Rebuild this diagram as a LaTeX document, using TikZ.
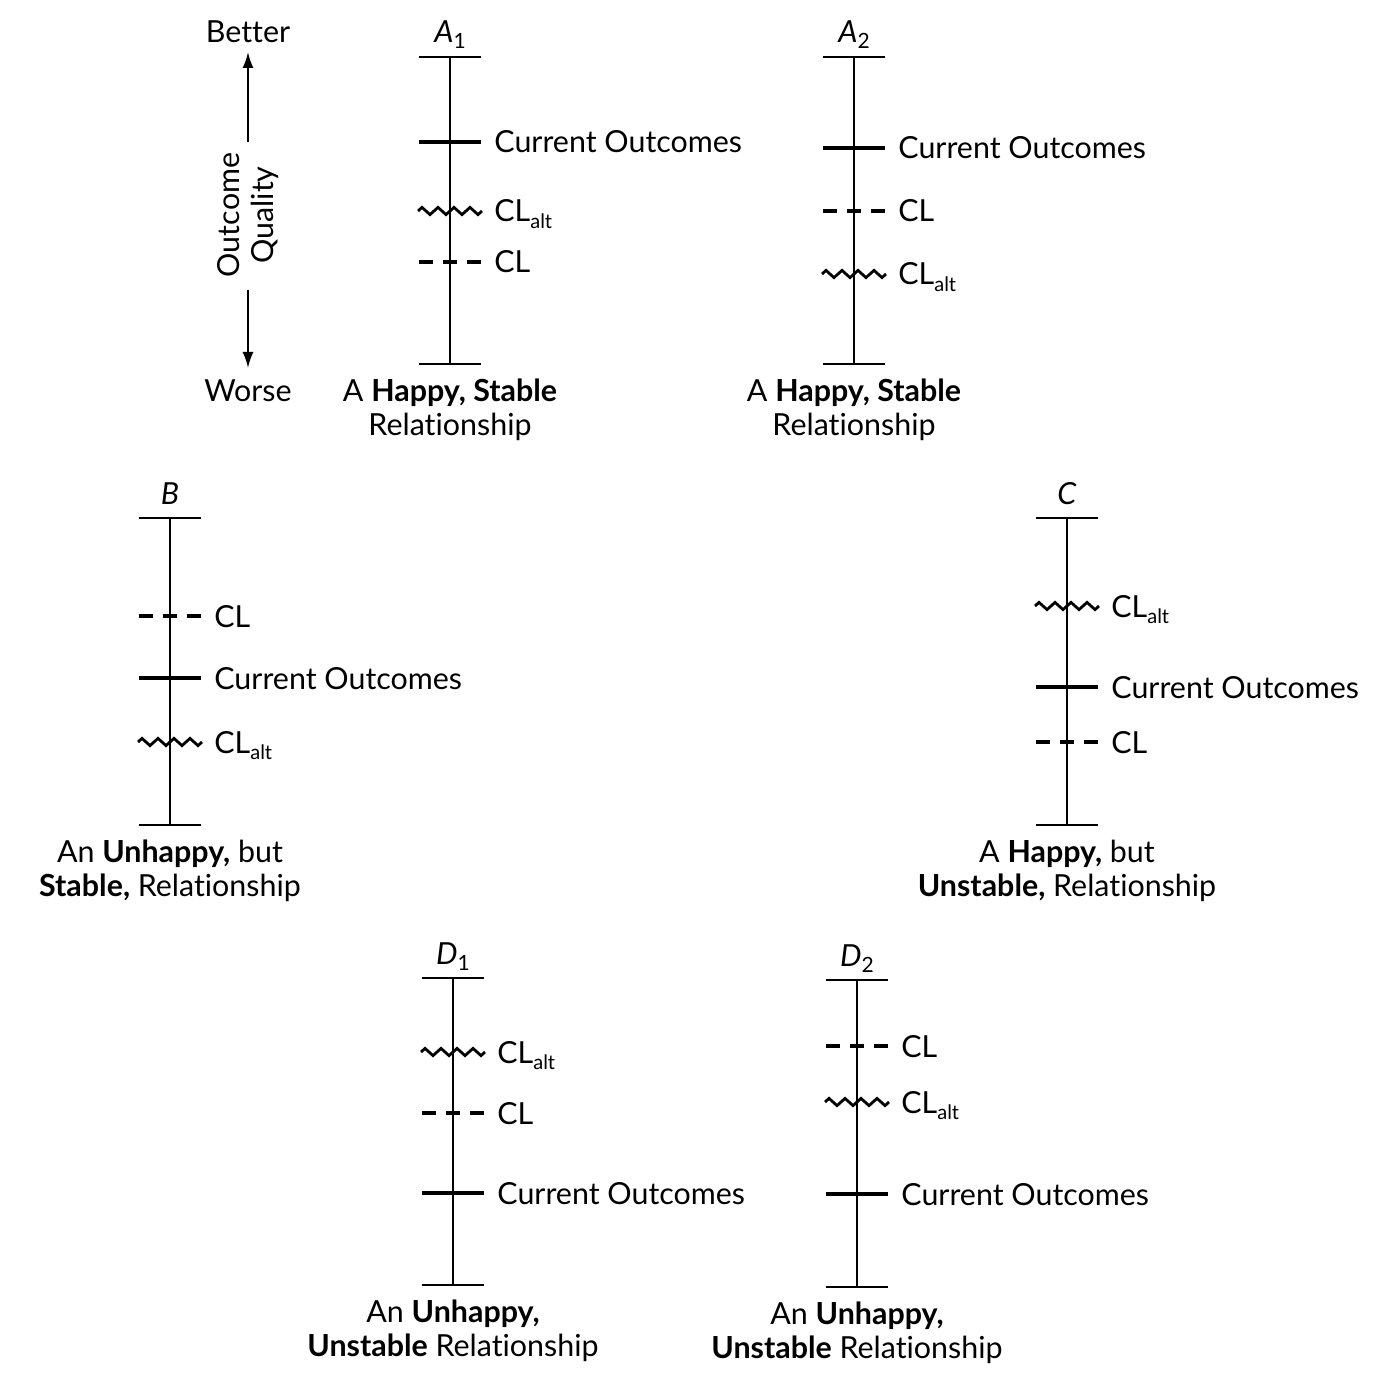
\documentclass[tikz,border=0pt]{standalone}
\usepackage{fontspec}
\setmainfont[Ligatures=NoCommon]{Lato}
\usetikzlibrary{arrows.meta,decorations.pathmorphing}
\tikzset{
 axisln/.style={line width=1pt},
 tickln/.style={line width=1pt},
 curln/.style={line width=1.8pt},
 clln/.style={line width=1.6pt, dash pattern=on 7pt off 5pt},
 altln/.style={line width=1.4pt, decorate, decoration={zigzag, segment length=8pt, amplitude=1.8pt}},
 lbl/.style={anchor=base west, inner sep=0pt, font=\fontsize{15.2}{18}\selectfont},
 captxt/.style={anchor=base, inner sep=0pt, font=\fontsize{15.2}{18}\selectfont},
 arr/.style={line width=1pt, -{Latex[length=8pt,width=5.5pt]}},
}
\newcommand{\altsub}{CL\raisebox{-3.2pt}{\fontsize{10}{10}\selectfont alt}}
\newcommand{\headsub}[2]{\textit{#1}\raisebox{-3pt}{\fontsize{10.5}{10}\selectfont #2}}
\newcommand{\mypanel}[9]{%
 \coordinate (#1top) at (#2,#3);
 \coordinate (#1bot) at (#2,#3+307);
 \draw[axisln] (#1top) -- (#1bot);
 \draw[tickln] (#2-31,#3) -- (#2+31,#3);
 \draw[tickln] (#2-31,#3+307) -- (#2+31,#3+307);
 \draw[curln] (#2-31,#5) -- (#2+31,#5);
 \node[lbl] (#1cur) at (#2+44,#5+11) {Current Outcomes};
 \draw[clln] (#2-31,#6) -- (#2+31,#6);
 \node[lbl] (#1cl) at (#2+44,#6+11) {CL};
 \draw[altln] (#2-32,#7) -- (#2+32,#7);
 \node[lbl] (#1alt) at (#2+44,#7+11) {\altsub};
 \node[captxt] (#1head) at (#2,#3-14) {#4};
 \node[captxt] (#1capa) at (#2,#3+344) {#8};
 \node[captxt] (#1capb) at (#2,#3+378) {#9};
}
\begin{document}
\begin{tikzpicture}[x=0.5pt,y=-0.5pt]
\useasboundingbox (0,0) rectangle (1396,1390);
% quality axis
\node[captxt] (better) at (248,43) {Better};
\node[captxt] (worse) at (248,401) {Worse};
\coordinate (upS) at (248,142);
\coordinate (upE) at (248,52);
\coordinate (dnS) at (248,290);
\coordinate (dnE) at (248,368);
\draw[arr] (upS) -- (upE);
\draw[arr] (dnS) -- (dnE);
\node[rotate=90, align=center, inner sep=0pt, font=\fontsize{15.2}{17}\selectfont] (oq) at (248,215) {Outcome\\Quality};
% panels
\mypanel{A1}{450}{57}{\headsub{A}{1}}{142}{262}{211}{A \textbf{Happy, Stable}}{Relationship}
\mypanel{A2}{854}{57}{\headsub{A}{2}}{148}{211}{274}{A \textbf{Happy, Stable}}{Relationship}
\mypanel{B}{170}{518}{\textit{B}}{678}{616}{742}{An \textbf{Unhappy,} but}{\textbf{Stable,} Relationship}
\mypanel{C}{1067}{518}{\textit{C}}{687}{742}{606}{A \textbf{Happy,} but}{\textbf{Unstable,} Relationship}
\mypanel{D1}{453}{978}{\headsub{D}{1}}{1193}{1113}{1052}{An \textbf{Unhappy,}}{\textbf{Unstable} Relationship}
\mypanel{D2}{857}{980}{\headsub{D}{2}}{1194}{1046}{1102}{An \textbf{Unhappy,}}{\textbf{Unstable} Relationship}
\end{tikzpicture}
\end{document}
